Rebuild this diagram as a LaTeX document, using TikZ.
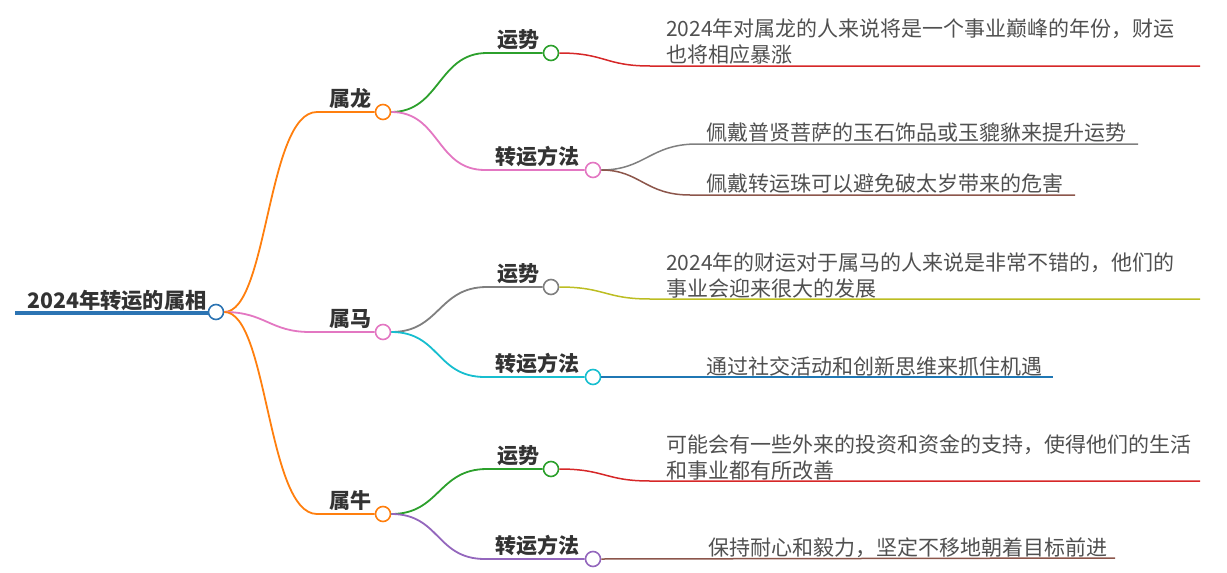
\documentclass[tikz,border=0pt]{standalone}
\usepackage{fontspec}
\setmainfont{Noto Sans CJK SC}
\definecolor{cblue}{HTML}{2C74B3}
\definecolor{corange}{HTML}{FF7F0E}
\definecolor{cpink}{HTML}{E377C2}
\definecolor{cgreen}{HTML}{2CA02C}
\definecolor{cred}{HTML}{D62728}
\definecolor{cgray}{HTML}{7F7F7F}
\definecolor{cbrown}{HTML}{8C564B}
\definecolor{colive}{HTML}{BCBD22}
\definecolor{ccyan}{HTML}{17BECF}
\definecolor{cpurple}{HTML}{9467BD}
\definecolor{cblue2}{HTML}{1F77B4}
\definecolor{labc}{HTML}{333333}
\definecolor{leafc}{HTML}{505050}
\newcommand{\twol}[2]{\vtop{\hbox{#1}\hbox{#2}}}
\begin{document}
\begin{tikzpicture}[x=1pt,y=-1pt,
  dot/.style={circle, draw, fill=white, line width=1.6pt, minimum size=15pt, inner sep=0pt},
  lab/.style={font=\bfseries\fontsize{21}{25}\selectfont, text=labc, inner sep=0pt},
  leaf/.style={font=\fontsize{21}{26}\selectfont, text=leafc, inner sep=0pt, anchor=base west},
  conn/.style={line width=1.8pt},
  leafline/.style={line width=1.5pt}]
\useasboundingbox (0,0) rectangle (1227,573);

% root
\coordinate (rs) at (15,313);
\draw[cblue, line width=4pt] (rs) -- (208,313);
\node[dot, draw=cblue] (root) at (216,312) {};
\node[lab, anchor=base west, font=\bfseries\fontsize{21.3}{25}\selectfont] (rt) at (27,308) {2024年转运的属相};

% level 1
\node[dot, draw=corange] (long) at (383,112) {};
\node[dot, draw=cpink] (ma) at (383,332) {};
\node[dot, draw=corange] (niu) at (383,514) {};
\node[lab, anchor=base east] at (372,106) {属龙};
\node[lab, anchor=base east] at (372,326) {属马};
\node[lab, anchor=base east] at (372,508) {属牛};

\draw[conn, corange] (root.east) .. controls (268,312) and (267,112) .. (317,112) -- (long.west);
\draw[conn, cpink] (root.east) .. controls (265,312) and (270,332) .. (310,332) -- (ma.west);
\draw[conn, corange] (root.east) .. controls (268,312) and (267,514) .. (317,514) -- (niu.west);

% level 2
\node[dot, draw=cgreen] (ly) at (551,53) {};
\node[dot, draw=cpink] (lf) at (593,170) {};
\node[dot, draw=cgray] (my) at (551,287) {};
\node[dot, draw=ccyan] (mf) at (593,377) {};
\node[dot, draw=cgreen] (ny) at (551,469) {};
\node[dot, draw=cpurple] (nf) at (593,559) {};
\node[lab, anchor=base east] at (540,47) {运势};
\node[lab, anchor=base east] at (580,164) {转运方法};
\node[lab, anchor=base east] at (540,281) {运势};
\node[lab, anchor=base east] at (580,371) {转运方法};
\node[lab, anchor=base east] at (540,463) {运势};
\node[lab, anchor=base east] at (580,553) {转运方法};

\draw[conn, cgreen] (long.east) .. controls (440,112) and (438,53) .. (487,53) -- (ly.west);
\draw[conn, cpink] (long.east) .. controls (440,112) and (436,170) .. (485,170) -- (lf.west);
\draw[conn, cgray] (ma.east) .. controls (440,332) and (438,287) .. (487,287) -- (my.west);
\draw[conn, ccyan] (ma.east) .. controls (440,332) and (436,377) .. (485,377) -- (mf.west);
\draw[conn, cgreen] (niu.east) .. controls (440,514) and (438,469) .. (487,469) -- (ny.west);
\draw[conn, cpurple] (niu.east) .. controls (440,514) and (436,559) .. (485,559) -- (nf.west);

% leaves
\coordinate (e1) at (1200,66);
\coordinate (e2) at (1138,144);
\coordinate (e3) at (1075,195);
\coordinate (e4) at (1200,299);
\coordinate (e5) at (1053,377);
\coordinate (e6) at (1200,481);
\coordinate (e7) at (1115,558);
\draw[leafline, cred] (ly.east) .. controls (605,53) and (605,66) .. (650,66) -- (e1);
\draw[leafline, cgray] (lf.east) .. controls (645,170) and (650,144) .. (697,144) -- (e2);
\draw[leafline, cbrown] (lf.east) .. controls (640,170) and (645,195) .. (690,195) -- (e3);
\draw[leafline, colive] (my.east) .. controls (605,287) and (605,299) .. (650,299) -- (e4);
\draw[leafline, cblue2] (mf.east) -- (e5);
\draw[leafline, cred] (ny.east) .. controls (605,469) and (605,481) .. (650,481) -- (e6);
\draw[leafline, cbrown] (nf.east) -- (e7);

\node[leaf] (t1) at (666,36) {\twol{2024年对属龙的人来说将是一个事业巅峰的年份，财运}{也将相应暴涨}};
\node[leaf] (t2) at (706,140) {佩戴普贤菩萨的玉石饰品或玉貔貅来提升运势};
\node[leaf] (t3) at (706,191) {佩戴转运珠可以避免破太岁带来的危害};
\node[leaf] (t4) at (666,270) {\twol{2024年的财运对于属马的人来说是非常不错的，他们的}{事业会迎来很大的发展}};
\node[leaf] (t5) at (706,374) {通过社交活动和创新思维来抓住机遇};
\node[leaf] (t6) at (666,452) {\twol{可能会有一些外来的投资和资金的支持，使得他们的生活}{和事业都有所改善}};
\node[leaf] (t7) at (708,555) {保持耐心和毅力，坚定不移地朝着目标前进};
\end{tikzpicture}
\end{document}
